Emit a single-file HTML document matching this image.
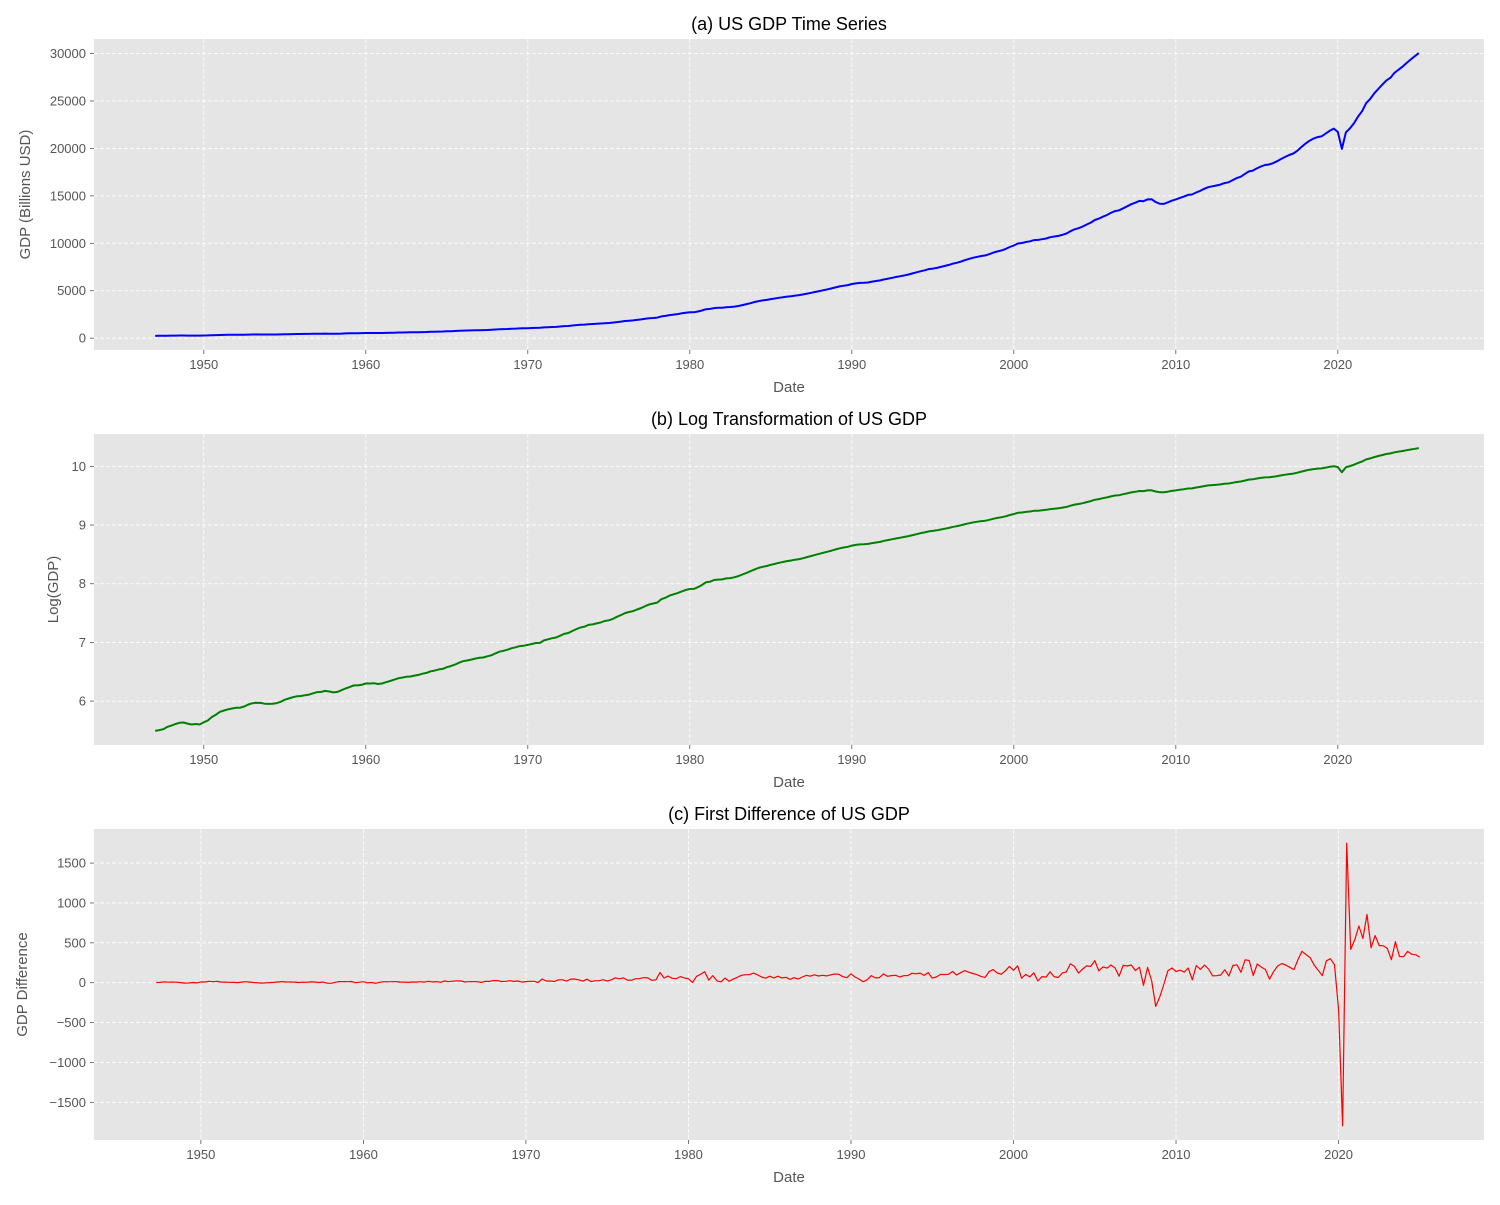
<!DOCTYPE html>
<html><head><meta charset="utf-8"><style>
body{margin:0;background:#fff;font-family:"Liberation Sans","DejaVu Sans",sans-serif}
svg text{font-family:"Liberation Sans","DejaVu Sans",sans-serif}
</style></head><body>
<svg id="chart" width="1500" height="1200" xmlns="http://www.w3.org/2000/svg"></svg>
<script>
const startYear = 1947;
const gdpValues = [
243,246,250,260, 266,273,279,280, 275,271,273,271, 281,290,308,320,
336,344,351,356, 360,361,368,381, 389,392,391,386, 385,386,390,399,
413,422,431,438, 440,446,451,461, 470,472,480,475, 468,472,486,500,
512,527,527,533, 546,545,547,540, 545,557,568,581, 595,602,610,614,
623,631,644,652, 670,679,693,698, 719,732,751,775, 797,806,818,832,
844,848,865,881, 909,936,951,968, 993,1009,1030,1037, 1051,1068,1086,1088,
1135,1157,1178,1193, 1230,1267,1287,1332, 1377,1414,1433,1477, 1492,1516,1541,1579,
1599,1636,1698,1747, 1807,1840,1871,1921, 1973,2037,2097,2127, 2164,2292,2351,2434,
2489,2540,2617,2677, 2726,2729,2809,2915, 3052,3085,3174,3198, 3208,3266,3283,3327,
3394,3487,3587,3688, 3808,3907,3978,4035, 4117,4176,4258,4318, 4386,4427,4490,4537,
4608,4699,4781,4880, 4964,5057,5142,5241, 5350,5456,5531,5594, 5706,5777,5822,5835,
5872,5961,6021,6085, 6196,6276,6365,6458, 6530,6618,6708,6826, 6938,7058,7150,7277,
7335,7406,7509,7612, 7718,7858,7954,8079, 8231,8363,8478,8580, 8659,8725,8864,9028,
9150,9255,9404,9609, 9764,9976,10032,10136, 10209,10333,10354,10430, 10500,10637,10712,10777,
10899,11034,11270,11474, 11595,11766,11977,12181, 12458,12606,12804,12987, 13209,13394,13476,13693,
13903,14125,14277,14472, 14438,14630,14651,14354, 14177,14155,14306,14490, 14630,14787,14920,15104,
15140,15356,15523,15744, 15916,16003,16091,16187, 16349,16433,16649,16874, 17005,17292,17571,17661,
17896,18091,18256,18300, 18437,18647,18887,19109, 19302,19466,19753,20147, 20500,20815,21036,21193,
21281,21556,21857,22083, 21745,19950,21700,22116, 22657,23368,23922,24777, 25215,25806,26272,26735,
27165,27454,27968,28297, 28624,29017,29374,29724, 30042
];
const xTicks = [1950,1960,1970,1980,1990,2000,2010,2020];
const gdpTicks = [0,5000,10000,15000,20000,25000,30000];
const logTicks = [6,7,8,9,10];
const diffTicks = [-1500,-1000,-500,0,500,1000,1500];

const NS="http://www.w3.org/2000/svg";
const svg=document.getElementById('chart');
function el(tag,attrs,parent){const e=document.createElementNS(NS,tag);for(const k in attrs)e.setAttribute(k,attrs[k]);(parent||svg).appendChild(e);return e;}
function fmt(v){return v<0?'\u2212'+Math.abs(v):String(v);}

const dates=gdpValues.map((v,i)=>startYear+i*0.25);
const logValues=gdpValues.map(v=>Math.log(v));
const diffValues=gdpValues.slice(1).map((v,i)=>v-gdpValues[i]);
const diffDates=dates.slice(1);

function panel(cfg){
  const L=94,R=1484,T=cfg.top,B=cfg.top+311;
  const g=el('g',{});
  
  
  const xs=cfg.x, ys=cfg.y;
  const xmin=Math.min(...xs),xmax=Math.max(...xs),xm=(xmax-xmin)*0.05;
  const ymin=Math.min(...ys),ymax=Math.max(...ys),ym=(ymax-ymin)*0.05;
  const X=v=>L+cfg.dx+(v-(xmin-xm))/((xmax+xm)-(xmin-xm))*(R-L);
  const Y=v=>B-(v-(ymin-ym))/((ymax+ym)-(ymin-ym))*(B-T);
  const bg=el('rect',{x:L,y:T,width:R-L,height:B-T,fill:'#e5e5e5'},g);
  
  
  xTicks.forEach(t=>{
    const x=X(t);
    el('line',{x1:x,x2:x,y1:T,y2:B,stroke:'#fff','stroke-dasharray':'4,2','stroke-width':0.8},g);
    el('line',{x1:x,x2:x,y1:B,y2:B+4,stroke:'#555','stroke-width':0.8},g);
    const tx=el('text',{x:x,y:B+19,'font-size':13,fill:'#555','text-anchor':'middle'},g);
    tx.textContent=t;
    
    
  });
  cfg.ticks.forEach(t=>{
    const y=Y(t);
    el('line',{x1:L,x2:R,y1:y,y2:y,stroke:'#fff','stroke-dasharray':'4,2','stroke-width':0.8},g);
    el('line',{x1:L-4,x2:L,y1:y,y2:y,stroke:'#555','stroke-width':0.8},g);
    const tx=el('text',{x:L-8,y:y+4.5,'font-size':13,fill:'#555','text-anchor':'end'},g);
    tx.textContent=fmt(t);
    
    
  });
  const d=xs.map((v,i)=>(i?'L':'M')+X(v).toFixed(1)+','+Y(ys[i]).toFixed(1)).join('');
  const p=el('path',{d:d,fill:'none',stroke:cfg.color,'stroke-width':cfg.lw,'stroke-linejoin':'round'},g);
  
  
  const ti=el('text',{x:(L+R)/2,y:T-9,'font-size':18,fill:'#000','text-anchor':'middle'},g);
  ti.textContent=cfg.title;
  
  
  const xl=el('text',{x:(L+R)/2,y:B+42,'font-size':15,fill:'#555','text-anchor':'middle'},g);
  xl.textContent='Date';
  
  
  const cy=(T+B)/2;
  const yl=el('text',{x:cfg.ylx,y:cy,'font-size':15,fill:'#555','text-anchor':'middle',transform:`rotate(-90 ${cfg.ylx} ${cy})`},g);
  yl.textContent=cfg.ylabel;
  
  
}
panel({name:'gdp-panel',top:39,dx:-2,x:dates,y:gdpValues,ticks:gdpTicks,color:'#0000ff',lw:2,lineName:'gdp-line',title:'(a) US GDP Time Series',ylabel:'GDP (Billions USD)',ylx:30});
panel({name:'log-gdp-panel',top:434,dx:-2,x:dates,y:logValues,ticks:logTicks,color:'#008000',lw:2,lineName:'log-gdp-line',title:'(b) Log Transformation of US GDP',ylabel:'Log(GDP)',ylx:58});
panel({name:'diff-gdp-panel',top:829,dx:-1,x:diffDates,y:diffValues,ticks:diffTicks,color:'#ff0000',lw:1.2,lineName:'diff-gdp-line',title:'(c) First Difference of US GDP',ylabel:'GDP Difference',ylx:27});
</script>
</body></html>
